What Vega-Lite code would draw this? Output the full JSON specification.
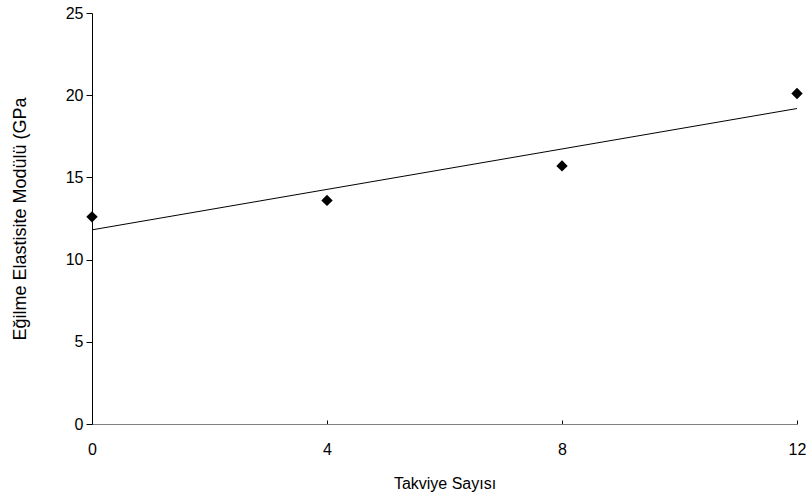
{
  "$schema": "https://vega.github.io/schema/vega-lite/v6.json",
  "autosize": {"type": "none"},
  "width": 705,
  "height": 411,
  "padding": {"left": 92, "top": 13, "right": 13, "bottom": 77},
  "background": "white",
  "config": {
    "view": {"stroke": null},
    "font": "Liberation Sans",
    "axis": {"grid": false, "domainColor": "black", "tickColor": "black", "labelColor": "black", "titleColor": "black", "labelFont": "Liberation Sans", "titleFont": "Liberation Sans", "labelFontSize": 16, "titleFontSize": 16, "titleFontWeight": "normal", "labelFlush": false}
  },
  "data": {"values": [
    {"takviye": 0, "modul": 12.6},
    {"takviye": 4, "modul": 13.6},
    {"takviye": 8, "modul": 15.7},
    {"takviye": 12, "modul": 20.1}
  ]},
  "layer": [
    {
      "transform": [{"regression": "modul", "on": "takviye", "extent": [0, 12]}],
      "mark": {"type": "line", "color": "black", "strokeWidth": 1},
      "encoding": {
        "x": {"field": "takviye", "type": "quantitative"},
        "y": {"field": "modul", "type": "quantitative"}
      }
    },
    {
      "mark": {"type": "point", "shape": "diamond", "filled": true, "color": "black", "size": 130, "opacity": 1},
      "encoding": {
        "x": {"field": "takviye", "type": "quantitative", "scale": {"domain": [0, 12], "nice": false, "zero": true},
          "axis": {"title": "Takviye Sayısı", "values": [0, 4, 8, 12], "format": "d", "tickSize": -4, "labelPadding": 21, "titlePadding": 18, "domainColor": "#808080"}},
        "y": {"field": "modul", "type": "quantitative", "scale": {"domain": [0, 25], "nice": false},
          "axis": {"title": "Eğilme Elastisite Modülü (GPa", "values": [0, 5, 10, 15, 20, 25], "format": "d", "tickSize": 6, "labelPadding": 3, "titlePadding": 36, "titleFontSize": 18}}
      }
    }
  ]
}
